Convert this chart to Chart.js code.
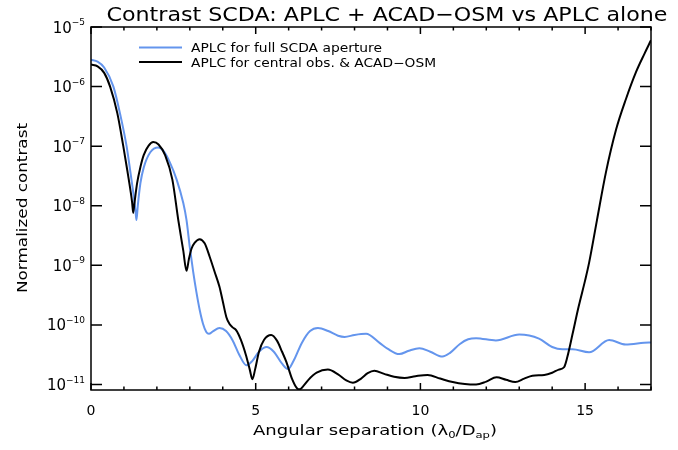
<!DOCTYPE html>
<html>
<head>
<meta charset="utf-8">
<script src="https://cdn.jsdelivr.net/npm/chart.js@4"></script>
<style>
  html, body { margin: 0; padding: 0; background: #fff; }
  #wrap { width: 678px; height: 450px; position: relative; }
</style>
</head>
<body>
<div id="wrap"><canvas id="contrastChart"></canvas></div>
<script>
// angular separation (lambda0/D) and normalized contrast
const fullX = [0, 0.2, 0.4, 0.68, 0.9, 1.08, 1.2, 1.3, 1.35, 1.38, 1.42, 1.5, 1.6, 1.8, 2.04, 2.2, 2.4, 2.6, 2.8, 2.9,
  3.0, 3.1, 3.2, 3.3, 3.4, 3.5, 3.58, 3.7, 3.9, 4.1, 4.3, 4.5, 4.72, 4.9, 5.1, 5.33, 5.55, 5.8, 5.98, 6.15,
  6.4, 6.65, 6.89, 7.2, 7.5, 7.7, 8.0, 8.35, 8.76, 9.0, 9.36, 9.65, 9.97, 10.3, 10.67, 10.9, 11.2, 11.45, 11.69, 12.29,
  13.0, 13.6, 14.0, 14.31, 14.62, 15.12, 15.73, 16.23, 16.94, 17];
const fullY = [2.82e-6, 2.63e-6, 2.09e-6, 1.0e-6, 3.16e-7, 1.0e-7, 3.55e-8, 1.41e-8, 8.3e-9, 5.75e-9, 1.0e-8, 2.4e-8, 4.37e-8, 7.9e-8, 9.5e-8, 8.3e-8, 5.25e-8, 2.75e-8, 1.12e-8, 5.75e-9,
  2.0e-9, 7.9e-10, 3.55e-10, 1.78e-10, 1.05e-10, 7.6e-11, 7.1e-11, 7.8e-11, 8.9e-11, 7.9e-11, 5.5e-11, 3.16e-11, 2.1e-11, 2.5e-11, 3.55e-11, 4.27e-11, 3.55e-11, 2.24e-11, 1.82e-11, 2.5e-11,
  5.0e-11, 7.9e-11, 8.9e-11, 7.9e-11, 6.6e-11, 6.3e-11, 6.8e-11, 7.1e-11, 5.0e-11, 4.0e-11, 3.24e-11, 3.7e-11, 4.07e-11, 3.55e-11, 2.95e-11, 3.4e-11, 4.8e-11, 5.75e-11, 6.0e-11, 5.5e-11,
  6.9e-11, 5.9e-11, 4.27e-11, 3.9e-11, 3.9e-11, 3.47e-11, 5.6e-11, 4.7e-11, 5.1e-11, 5.1e-11];

const obsX = [0, 0.2, 0.4, 0.58, 0.8, 0.98, 1.1, 1.2, 1.25, 1.28, 1.32, 1.4, 1.5, 1.6, 1.75, 1.89, 2.05, 2.25, 2.47, 2.65,
  2.8, 2.9, 2.97, 3.05, 3.15, 3.3, 3.45, 3.6, 3.75, 3.9, 4.0, 4.11, 4.2, 4.3, 4.41, 4.55, 4.7, 4.82, 4.9, 4.98,
  5.1, 5.25, 5.47, 5.65, 5.8, 5.93, 6.1, 6.25, 6.33, 6.45, 6.6, 6.85, 7.19, 7.5, 7.75, 7.95, 8.2, 8.4, 8.6, 8.9,
  9.2, 9.52, 9.85, 10.22, 10.6, 10.98, 11.35, 11.69, 12.0, 12.31, 12.6, 12.88, 13.15, 13.4, 13.76, 14.0, 14.2, 14.36, 14.46, 14.62,
  14.8, 15.0, 15.12, 15.36, 15.63, 15.94, 16.24, 16.55, 16.8, 17.0];
const obsY = [2.34e-6, 2.19e-6, 1.7e-6, 1.0e-6, 3.55e-7, 1.0e-7, 3.98e-8, 1.78e-8, 1.12e-8, 7.6e-9, 1.12e-8, 2.4e-8, 4.47e-8, 7.08e-8, 1.02e-7, 1.17e-7, 1.07e-7, 7.08e-8, 2.75e-8, 5.75e-9,
  1.78e-9, 8.1e-10, 1.26e-9, 1.9e-9, 2.4e-9, 2.75e-9, 2.34e-9, 1.41e-9, 7.9e-10, 4.37e-10, 2.5e-10, 1.35e-10, 1.05e-10, 9.1e-11, 8.1e-11, 5.6e-11, 3.16e-11, 1.78e-11, 1.23e-11, 1.78e-11,
  3.55e-11, 5.6e-11, 6.8e-11, 5.4e-11, 3.55e-11, 2.4e-11, 1.26e-11, 8.7e-12, 8.3e-12, 9.5e-12, 1.2e-11, 1.58e-11, 1.78e-11, 1.48e-11, 1.17e-11, 1.07e-11, 1.26e-11, 1.55e-11, 1.7e-11, 1.51e-11,
  1.35e-11, 1.29e-11, 1.38e-11, 1.45e-11, 1.26e-11, 1.1e-11, 1.02e-11, 1.0e-11, 1.12e-11, 1.32e-11, 1.2e-11, 1.1e-11, 1.26e-11, 1.41e-11, 1.45e-11, 1.58e-11, 1.78e-11, 1.95e-11, 2.9e-11, 7.1e-11,
  2.0e-10, 5.6e-10, 1.1e-9, 5.75e-9, 3.6e-8, 1.9e-7, 6.2e-7, 1.78e-6, 3.55e-6, 6.0e-6];

const seriesLabels = ['APLC for full SCDA aperture', 'APLC for central obs. & ACAD\u2212OSM'];
const seriesColors = ['#6495ed', '#000000'];
const xTickValues = [0, 5, 10, 15];
const yTickValues = [1e-5, 1e-6, 1e-7, 1e-8, 1e-9, 1e-10, 1e-11];
const yTickExponents = ['\u22125', '\u22126', '\u22127', '\u22128', '\u22129', '\u221210', '\u221211'];

const FONT = '"DejaVu Sans", sans-serif';

// draws text made of pieces [text, size, raise], squeezed/stretched to width
function drawRich(ctx, parts, x, baseline, width, align) {
  let total = 0;
  parts.forEach(p => {
    ctx.font = p[1] + 'px ' + FONT;
    total += ctx.measureText(p[0]).width;
  });
  const s = width ? width / total : 1;
  let start = x;
  if (align === 'center') start = x - total * s / 2;
  if (align === 'right') start = x - total * s;
  ctx.save();
  ctx.translate(start, baseline);
  ctx.scale(s, 1);
  ctx.textAlign = 'left';
  ctx.textBaseline = 'alphabetic';
  ctx.fillStyle = '#000';
  let cx = 0;
  parts.forEach(p => {
    ctx.font = p[1] + 'px ' + FONT;
    ctx.fillText(p[0], cx, -(p[2] || 0));
    cx += ctx.measureText(p[0]).width;
  });
  ctx.restore();
}

const framePlugin = {
  id: 'frame',
  afterDraw(chart) {
    const { ctx, chartArea: a, scales: { x, y } } = chart;
    ctx.save();
    ctx.strokeStyle = '#000';
    ctx.lineWidth = 1.5;
    ctx.strokeRect(a.left, a.top, a.right - a.left, a.bottom - a.top);

    // inward ticks on all four sides
    ctx.beginPath();
    for (let v = x.min; v <= x.max; v++) {
      const px = x.getPixelForValue(v);
      const len = v % 5 === 0 ? 7 : 3.5;
      ctx.moveTo(px, a.bottom); ctx.lineTo(px, a.bottom - len);
      ctx.moveTo(px, a.top); ctx.lineTo(px, a.top + len);
    }
    yTickValues.forEach(v => {
      const py = y.getPixelForValue(v);
      ctx.moveTo(a.left, py); ctx.lineTo(a.left + 11, py);
      ctx.moveTo(a.right, py); ctx.lineTo(a.right - 11, py);
    });
    ctx.stroke();

    // tick labels
    xTickValues.forEach(v => {
      drawRich(ctx, [[String(v), 14]], x.getPixelForValue(v), a.bottom + 25, null, 'center');
    });
    yTickValues.forEach((v, i) => {
      const py = y.getPixelForValue(v);
      drawRich(ctx, [['10', 15, -5.5], [yTickExponents[i], 9, 2]], a.left - 6, py, null, 'right');
    });

    // titles
    drawRich(ctx, [['Contrast SCDA: APLC + ACAD\u2212OSM vs APLC alone', 20]], 387, 21, 561, 'center');
    drawRich(ctx, [['Angular separation (', 14], ['\u03bb', 14], ['0', 9, -3], ['/D', 14], ['ap', 9, -3], [')', 14]],
      375, 435, 244, 'center');
    ctx.save();
    ctx.translate(27, 208);
    ctx.rotate(-Math.PI / 2);
    drawRich(ctx, [['Normalized contrast', 14]], 0, 0, 170, 'center');
    ctx.restore();

    // legend inside the plot
    const legendWidths = [191, 245];
    seriesLabels.forEach((label, i) => {
      const ly = 47.5 + i * 14.5;
      ctx.strokeStyle = seriesColors[i];
      ctx.lineWidth = 2;
      ctx.beginPath();
      ctx.moveTo(139, ly); ctx.lineTo(182, ly);
      ctx.stroke();
      drawRich(ctx, [[label, 12]], 191, ly + 4.5, legendWidths[i], 'left');
    });
    ctx.restore();
  }
};

const ctx = document.getElementById('contrastChart').getContext('2d');
new Chart(ctx, {
  type: 'line',
  data: {
    datasets: [
      {
        label: seriesLabels[0],
        data: fullX.map((v, i) => ({ x: v, y: fullY[i] })),
        borderColor: seriesColors[0],
        borderWidth: 2,
        pointRadius: 0,
        cubicInterpolationMode: 'monotone',
        order: 2,
      },
      {
        label: seriesLabels[1],
        data: obsX.map((v, i) => ({ x: v, y: obsY[i] })),
        borderColor: seriesColors[1],
        borderWidth: 2,
        pointRadius: 0,
        cubicInterpolationMode: 'monotone',
        order: 1,
      },
    ],
  },
  options: {
    responsive: true,
    maintainAspectRatio: false,
    animation: false,
    layout: { padding: { left: 91, right: 27, top: 27, bottom: 60 } },
    plugins: { legend: { display: false }, tooltip: { enabled: false } },
    scales: {
      x: { type: 'linear', min: 0, max: 17, display: false },
      y: { type: 'logarithmic', min: 8.1e-12, max: 1e-5, display: false },
    },
  },
  plugins: [framePlugin],
});
</script>
</body>
</html>
